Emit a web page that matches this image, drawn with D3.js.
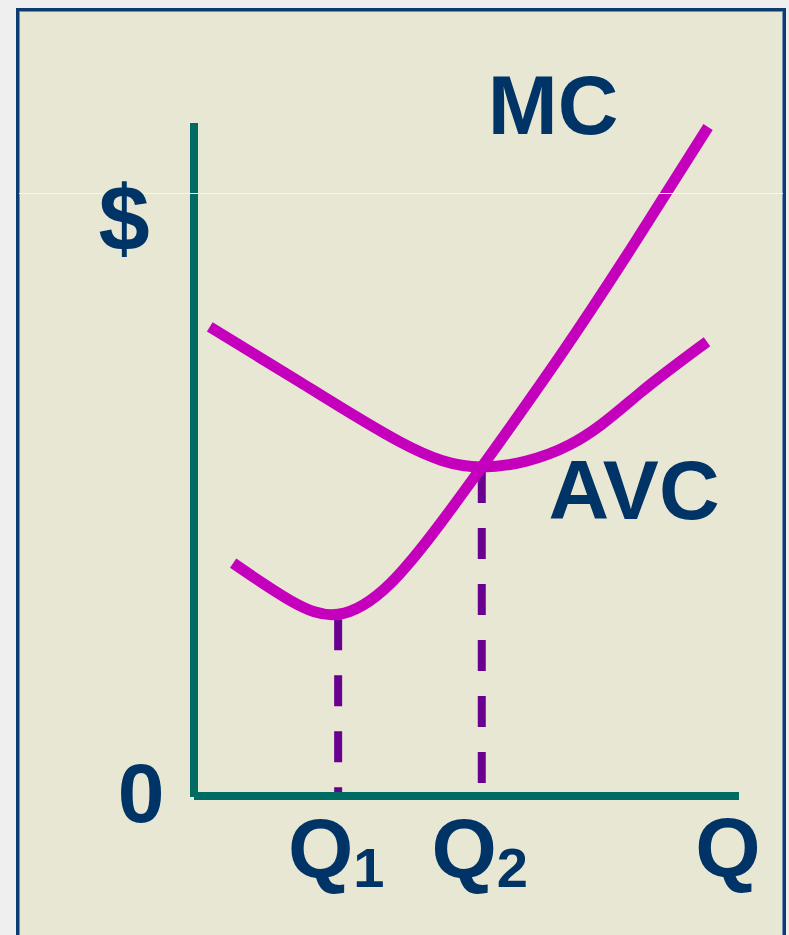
<!DOCTYPE html>
<html>
<head>
<meta charset="utf-8">
<script src="https://cdn.jsdelivr.net/npm/d3@7"></script>
<style>
  html, body { margin: 0; padding: 0; background: #efefef; overflow: hidden; }
  svg { display: block; }
  text { font-family: "Liberation Sans", Arial, sans-serif; font-weight: bold; fill: #003366; }
</style>
</head>
<body>
<svg id="chart" width="789" height="935"></svg>
<script>
// Marginal cost curve (quantity, dollars)
const mcQ    = [7.2, 17.6, 26.5, 36.0, 45.2, 52.9, 67.3, 81.1, 94.5];
const mcCost = [34.6, 29.1, 27.0, 31.5, 40.4, 48.9, 65.4, 82.3, 99.4];

// Average variable cost curve (quantity, dollars)
const avcQ    = [2.9, 19.5, 37.9, 52.9, 69.1, 82.0, 94.3];
const avcCost = [69.7, 61.5, 52.6, 48.9, 52.2, 59.9, 67.5];

// Marked quantities: Q1 = minimum of MC, Q2 = minimum of AVC (where MC crosses it)
const markQ     = [26.5, 52.9];
const markCost  = [27.0, 48.9];
const markSubs  = ["1", "2"];

const svg = d3.select("#chart");
const W = 789, H = 935;

const x = d3.scaleLinear().domain([0, 100]).range([194, 738]);
const y = d3.scaleLinear().domain([0, 100]).range([796, 123]);

// Panel with navy frame (open at the bottom edge)
svg.append("rect").attr("x", 0).attr("y", 0).attr("width", W).attr("height", H).attr("fill", "#efefef");
svg.append("rect")
  .attr("x", 17.5).attr("y", 9.5).attr("width", 767).attr("height", 960)
  .attr("fill", "#e8e7d3").attr("stroke", "#0d3d70").attr("stroke-width", 3);
svg.append("rect")
  .attr("x", 19.5).attr("y", 11.5).attr("width", 763).attr("height", 960)
  .attr("fill", "none").attr("stroke", "#6f8fb3").attr("stroke-width", 1);

// Dashed drop lines from the curves to the quantity axis
svg.selectAll("line.drop")
  .data(markQ)
  .join("line")
  .attr("class", "drop")
  .attr("x1", d => x(d)).attr("x2", d => x(d))
  .attr("y1", (d, i) => y(markCost[i])).attr("y2", y(0))
  .attr("stroke", "#6a0090").attr("stroke-width", 8)
  .attr("stroke-dasharray", "31,25").attr("stroke-dashoffset", 51);

// Axes
svg.append("line")
  .attr("x1", x(0)).attr("x2", x(0)).attr("y1", y(100)).attr("y2", y(0) + 1)
  .attr("stroke", "#006b63").attr("stroke-width", 8);
svg.append("line")
  .attr("x1", x(0)).attr("x2", x(100) + 1).attr("y1", y(0)).attr("y2", y(0))
  .attr("stroke", "#006b63").attr("stroke-width", 8);

// Cost curves
const line = d3.line()
  .x(d => x(d[0])).y(d => y(d[1]))
  .curve(d3.curveNatural);

svg.append("path")
  .attr("d", line(d3.zip(avcQ, avcCost)))
  .attr("fill", "none").attr("stroke", "#c500bd").attr("stroke-width", 11);
svg.append("path")
  .attr("d", line(d3.zip(mcQ, mcCost)))
  .attr("fill", "none").attr("stroke", "#c500bd").attr("stroke-width", 11);

// Thin light streak across the panel
svg.append("line")
  .attr("x1", 19).attr("x2", 783).attr("y1", 193.5).attr("y2", 193.5)
  .attr("stroke", "#f7f7f2").attr("stroke-width", 1.2);

// Labels
svg.append("text").attr("x", 553).attr("y", 134).attr("text-anchor", "middle")
  .attr("font-size", 84).text("MC");
svg.append("text").attr("x", 634).attr("y", 519).attr("text-anchor", "middle")
  .attr("font-size", 84).text("AVC");
svg.append("text").attr("x", 124).attr("y", 250).attr("text-anchor", "middle")
  .attr("font-size", 92).text("$");
svg.append("text").attr("x", 141).attr("y", 822).attr("text-anchor", "middle")
  .attr("font-size", 84).text("0");
svg.append("text").attr("x", 728).attr("y", 877).attr("text-anchor", "middle")
  .attr("font-size", 84).text("Q");

const qLabels = svg.selectAll("text.qmark")
  .data(markQ)
  .join("text")
  .attr("class", "qmark")
  .attr("x", d => x(d) - 2).attr("y", 878)
  .attr("text-anchor", "middle")
  .attr("font-size", 84);
qLabels.append("tspan").text("Q");
qLabels.append("tspan")
  .attr("font-size", 56).attr("dy", 9)
  .text((d, i) => markSubs[i]);
</script>
</body>
</html>
